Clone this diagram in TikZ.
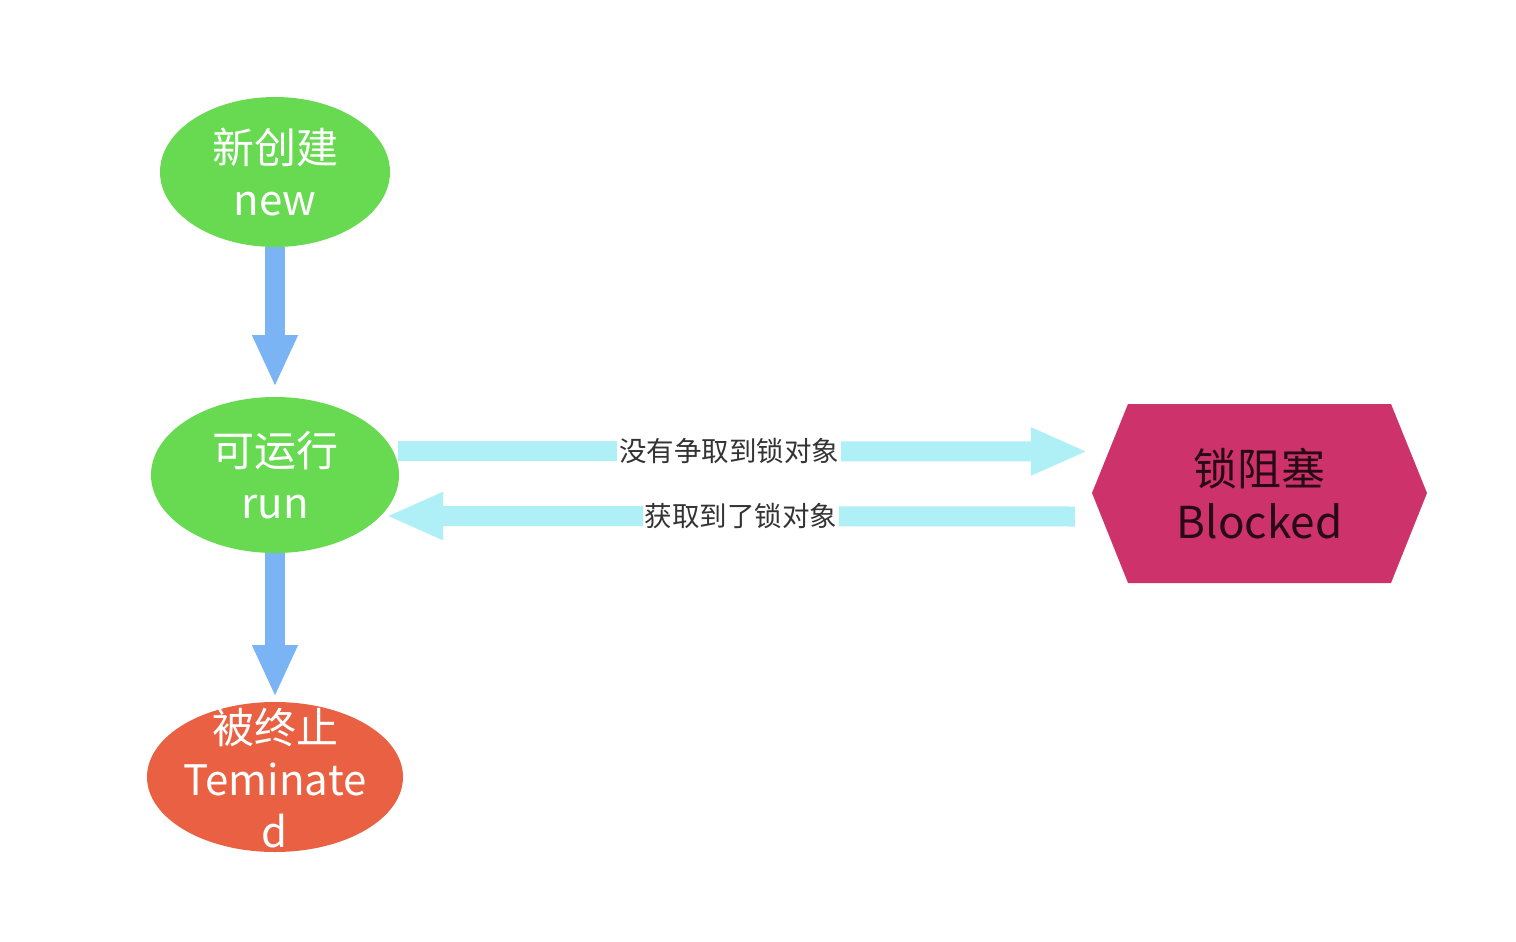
\documentclass[tikz,border=0pt]{standalone}
\usepackage{fontspec}
\setmainfont{Noto Sans CJK SC}
\usetikzlibrary{shapes.geometric,arrows.meta}
\definecolor{stgreen}{RGB}{104,218,82}
\definecolor{stred}{RGB}{233,96,66}
\definecolor{stmag}{RGB}{206,50,106}
\definecolor{varrow}{RGB}{122,180,245}
\definecolor{harrowc}{RGB}{174,240,246}
\definecolor{lbltext}{RGB}{51,51,51}
\definecolor{blktext}{RGB}{40,10,22}
\tikzset{
  stateell/.style={ellipse, inner sep=0pt, text=white, align=center,
    font=\fontsize{42}{52}\selectfont},
  vconn/.style={draw=varrow, line width=20pt,
    -{Triangle[length=52pt 0,width=42pt 0]}},
  hconn/.style={draw=harrowc, line width=20pt,
    -{Triangle[length=57pt 0,width=44pt 0]}},
  lbl/.style={fill=white, text=lbltext, inner sep=2pt,
    font=\fontsize{27.5}{30}\selectfont},
}
\begin{document}
\begin{tikzpicture}[x=1pt,y=-1pt]
\useasboundingbox (0,0) rectangle (1516,942);
\fill[white] (0,0) rectangle (1516,942);

\node[stateell, fill=stgreen, minimum width=230pt, minimum height=150pt] (new) at (275,172) {新创建\\new};
\node[stateell, fill=stgreen, minimum width=248pt, minimum height=156pt] (run) at (275,475) {可运行\\run};
\node[stateell, fill=stred, minimum width=256pt, minimum height=150pt] (term) at (275,777) {};
\node[text=white, align=center, font=\fontsize{42}{52}\selectfont] (termtxt) at (275,778) {被终止\\Teminate\\d};

\fill[stmag] (1128,404) -- (1391,404) -- (1427,493) -- (1391,583) -- (1128,583) -- (1092,493) -- cycle;
\node[minimum width=335pt, minimum height=179pt, inner sep=0pt, align=center,
  text=blktext, font=\fontsize{44}{53}\selectfont] (blk) at (1259.5,493.5) {锁阻塞\\Blocked};

\coordinate (runtop) at (275,387);
\coordinate (termtop) at (275,697);
\draw[vconn] (new.south) -- (runtop);
\draw[vconn] (run.south) -- (termtop);

\draw[hconn] ([xshift=-1pt,yshift=24pt]run.east) -- ([xshift=-4pt,yshift=42pt]blk.west)
  node[lbl, pos=0.48] (l1) {没有争取到锁对象};
\draw[hconn] ([xshift=-17pt,yshift=-23pt]blk.west) -- ([xshift=-13pt,yshift=-41pt]run.east)
  node[lbl, pos=0.485] (l2) {获取到了锁对象};
\end{tikzpicture}
\end{document}
